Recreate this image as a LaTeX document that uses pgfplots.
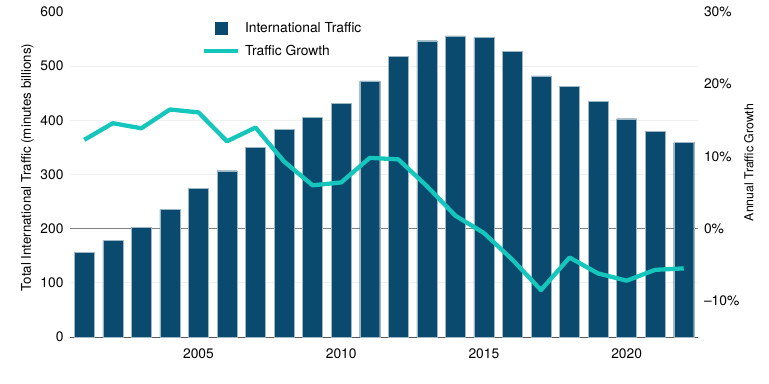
\documentclass[border=0pt]{standalone}
\usepackage{pgfplots}
\pgfplotsset{compat=1.18}
\usepackage{fontspec}
\setmainfont{TeX Gyre Heros}
\definecolor{barblue}{HTML}{0A4A6E}
\definecolor{tealline}{HTML}{14C6BC}
\newcommand{\chartfont}{\fontsize{13.8bp}{16bp}\selectfont}
\pgfplotsset{
 barleg/.style={legend image code/.code={\path[draw=none,fill=none] (0bp,0bp) -- (41bp,0bp); \fill[barblue,draw=none] (10.8bp,-6.5bp) rectangle (24.3bp,6.5bp);}},
 lineleg/.style={legend image code/.code={\path[draw=none,fill=none] (0bp,0bp) -- (41bp,0bp); \draw[##1] (0bp,0bp) -- (34.3bp,0bp);}},
}
\begin{document}
\begin{tikzpicture}
\useasboundingbox (-70bp,-47bp) rectangle (699bp,337bp);
\begin{axis}[
 width=628bp, height=325bp, scale only axis,
 at={(0,0)}, anchor=south west,
 xmin=2000.5, xmax=2022.5, ymin=0, ymax=600,
 axis x line*=bottom, axis y line*=left,
 x axis line style={-, draw=black!65, line width=1bp},
 y axis line style={draw=none},
 major tick length=0pt, minor tick length=0pt,
 xtick={2005,2010,2015,2020},
 ytick={0,100,...,600},
 minor ytick={100,300,400,500},
 yminorgrids, minor grid style={draw=black!6, line width=1bp},
 extra y ticks={200}, extra y tick labels={},
 extra y tick style={ymajorgrids=true, major grid style={draw=black!50, line width=1bp}},
 tick label style={font=\chartfont},
 /pgf/number format/1000 sep={},
 /pgf/number format/assume math mode=true,
 xticklabel style={yshift=-8bp},
 yticklabel style={xshift=-3bp},
 ylabel={Total International Traffic (minutes billions)},
 ylabel style={at={(axis description cs:-0.0677,0.5215)}, anchor=center, font=\fontsize{13.3bp}{16bp}\selectfont},
]
\addplot[ybar, bar width=20bp, fill=barblue, draw=barblue!40!white, line width=0.3bp] coordinates {
(2001,156) (2002,178) (2003,203) (2004,236) (2005,274) (2006,307) (2007,350)
(2008,383) (2009,405) (2010,431) (2011,473) (2012,518) (2013,547) (2014,556)
(2015,553) (2016,527) (2017,482) (2018,463) (2019,435) (2020,403) (2021,380) (2022,359)
};
\end{axis}
\begin{axis}[
 width=628bp, height=325bp, scale only axis,
 at={(0,0)}, anchor=south west,
 xmin=2000.5, xmax=2022.5, ymin=-15, ymax=30,
 axis x line=none, axis y line*=right,
 y axis line style={draw=none},
 major tick length=0pt,
 ytick={-10,0,10,20,30},
 yticklabels={--10\%,0\%,10\%,20\%,30\%},
 yticklabel style={font=\chartfont, xshift=2.5bp},
 ylabel={Annual Traffic Growth},
 ylabel style={at={(axis description cs:1.0812,0.537)}, anchor=center, font=\fontsize{12.3bp}{15bp}\selectfont},
 legend cell align=left,
 legend style={at={(rel axis cs:0.2006,0.9969)}, anchor=north west, fill=white, draw=none,
   inner xsep=5.7bp, inner ysep=9bp, row sep=10bp, font=\chartfont,
   nodes={inner sep=0pt, text height=10bp, text depth=2bp}},
]
\addlegendimage{barleg}
\addlegendentry{International Traffic}
\addplot[tealline, line width=4.3bp, line join=round, lineleg] coordinates {
(2001,12.3) (2002,14.6) (2003,13.9) (2004,16.5) (2005,16.1) (2006,12.1) (2007,14.0)
(2008,9.3) (2009,6.0) (2010,6.4) (2011,9.8) (2012,9.6) (2013,5.9) (2014,1.8)
(2015,-0.6) (2016,-4.3) (2017,-8.5) (2018,-4.0) (2019,-6.2) (2020,-7.2) (2021,-5.7) (2022,-5.5)
};
\addlegendentry{Traffic Growth}
\end{axis}
\end{tikzpicture}
\end{document}
